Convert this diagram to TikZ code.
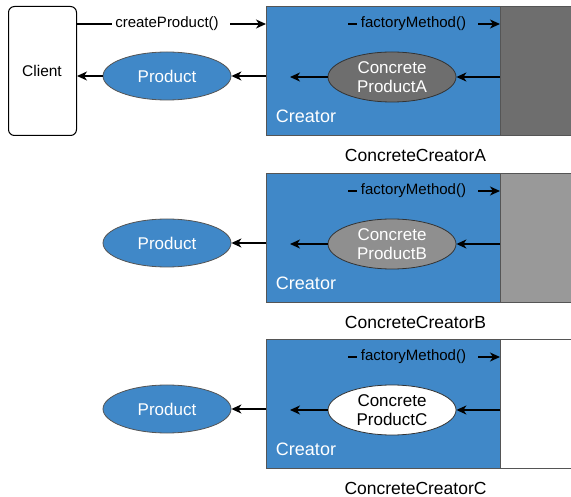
\documentclass[tikz,border=0pt]{standalone}
\usepackage{fontspec}
\setmainfont{Liberation Sans}
\usetikzlibrary{arrows.meta,shapes.geometric}

\definecolor{creatorblue}{RGB}{64,136,200}
\definecolor{darkgrayA}{RGB}{110,110,110}
\definecolor{lightgrayB}{RGB}{153,153,153}
\definecolor{ellgrayB}{RGB}{143,143,143}
\definecolor{edgegray}{RGB}{85,85,85}

\tikzset{
  smalltext/.style={font=\fontsize{15}{17}\selectfont},
  bigtext/.style={font=\fontsize{17}{19}\selectfont},
  conn/.style={line width=1.3pt, draw=black},
  arr/.style={conn, -{Stealth[length=10pt,width=9pt,inset=3pt]}},
  panel/.style={draw=edgegray, line width=0.7pt, fill=creatorblue,
    minimum width=234pt, minimum height=129pt, inner sep=0pt, anchor=north west},
  sidebox/.style={draw=edgegray, line width=0.7pt,
    minimum width=90pt, minimum height=129pt, inner sep=0pt, anchor=north west},
  prod/.style={ellipse, draw=edgegray, line width=0.8pt, fill=creatorblue,
    minimum width=128pt, minimum height=48pt, inner sep=0pt, text=white, bigtext},
  conc/.style={ellipse, draw=black!80, line width=0.8pt,
    minimum width=128pt, minimum height=50pt, inner sep=0pt, bigtext,
    align=center, execute at begin node=\setlength{\baselineskip}{19pt}},
  clientbox/.style={draw=black, line width=1pt, rounded corners=6pt, fill=white,
    minimum width=68pt, minimum height=129pt, inner sep=0pt, anchor=north west, smalltext},
}

\begin{document}
\begin{tikzpicture}[x=1pt, y=-1pt]
  \useasboundingbox (0,0) rectangle (571,497);

  % three concrete creators, stacked vertically
  \foreach \s/\oy/\sidefill/\ellfill/\elltext in
    {A/0/darkgrayA/darkgrayA/white, B/167/lightgrayB/ellgrayB/white, C/333/white/white/black} {
    \node[panel] (creator\s) at (266,6+\oy) {};
    \node[sidebox, fill=\sidefill] (side\s) at (500,6+\oy) {};

    \node[text=white, font=\fontsize{18}{20}\selectfont] (creatorlbl\s) at (306,116+\oy) {Creator};
    \node[font=\fontsize{17.5}{20}\selectfont] (name\s) at (415.5,155+\oy) {ConcreteCreator\s};

    % factoryMethod() call into the concrete side
    \node[smalltext, inner sep=0pt] (fm\s) at (413.5,24+\oy) {factoryMethod()};
    \coordinate (fmstart\s) at (348,24+\oy);
    \coordinate (fmend\s) at (478,24+\oy);
    \draw[conn] (fmstart\s) -- ++(9,0);
    \draw[arr] (fmend\s) -- (side\s.west |- fmend\s);

    % concrete product returned through the creator
    \node[conc, fill=\ellfill, text=\elltext] (conc\s) at (392,77+\oy) {Concrete\\Product\s};
    \coordinate (out\s) at (290,77+\oy);
    \draw[arr] (side\s.west |- conc\s) -- (conc\s.east);
    \draw[arr] (conc\s.west) -- (out\s);

    % abstract product handed back
    \node[prod] (prod\s) at (167,76+\oy) {Product};
    \draw[arr] (creator\s.west |- prod\s) -- (prod\s.east);
  }

  % client
  \node[clientbox] (client) at (8,6) {};
  \node[font=\fontsize{15.5}{17}\selectfont] (clientlbl) at (42,71) {Client};

  \node[smalltext, inner sep=0pt] (cp) at (167,24) {createProduct()};
  \coordinate (cpa) at (112,24);
  \coordinate (cpb) at (230,24);
  \draw[conn] (client.east |- cp) -- (cpa);
  \draw[arr] (cpb) -- (creatorA.west |- cp);
  \draw[arr] (prodA.west) -- (client.east |- prodA);
\end{tikzpicture}
\end{document}
